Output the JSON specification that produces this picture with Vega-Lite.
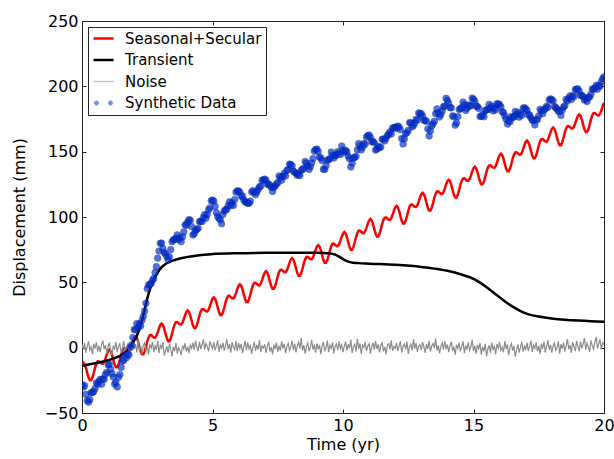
{
"$schema": "https://vega.github.io/schema/vega-lite/v6.json",
"width": 522, "height": 392,
"autosize": {"type": "none"},
"padding": {"left": 82, "top": 21, "right": 10, "bottom": 46},
"background": "white",
"config": {"font": "DejaVu Sans", "view": {"stroke": "#222", "strokeWidth": 1},
  "axis": {"labelFont": "DejaVu Sans", "titleFont": "DejaVu Sans", "labelColor": "black", "titleColor": "black", "grid": false, "domain": false, "tickColor": "#222", "tickWidth": 1, "labelFlush": false, "labelOverlap": false}},
"datasets": {
"series": [
{"t":0,"r":-12.6,"n":2.4,"d":-28.4},{"t":0.05,"r":-11.5,"n":-1.3,"d":-30.1},{"t":0.1,"r":-12.6,"n":3.5,"d":-29.0},{"t":0.15,"r":-15.4,"n":-4.0,"d":-35.7},{"t":0.2,"r":-19.3,"n":1.0,"d":-40.4},{"t":0.25,"r":-22.9,"n":4.8,"d":-41.8},{"t":0.3,"r":-25.0,"n":-1.9,"d":-39.7},{"t":0.35,"r":-25.0,"n":0.6,"d":-34.5},{"t":0.4,"r":-22.9,"n":-5.0,"d":-34.3},{"t":0.45,"r":-19.3,"n":2.9,"d":-33.5},{"t":0.5,"r":-15.3,"n":-0.8,"d":-31.3},{"t":0.55,"r":-12.2,"n":4.2,"d":-27.0},{"t":0.6,"r":-10.5,"n":-3.0,"d":-28.0},{"t":0.65,"r":-10.4,"n":1.4,"d":-25.7},{"t":0.7,"r":-11.3,"n":-3.5,"d":-24.3},{"t":0.75,"r":-12.2,"n":2.1,"d":-28.0},{"t":0.8,"r":-12.3,"n":5.4,"d":-23.9},{"t":0.85,"r":-10.9,"n":-1.1,"d":-24.2},{"t":0.9,"r":-8.3,"n":1.8,"d":-20.4},{"t":0.95,"r":-5.1,"n":-4.5,"d":-18.9},
{"t":1,"r":-2.6,"n":0.5,"d":-13.2},{"t":1.05,"r":-1.5,"n":3.8,"d":-12.8},{"t":1.1,"r":-2.6,"n":-2.6,"d":-16.5},{"t":1.15,"r":-5.4,"n":-5.4,"d":-20.0},{"t":1.2,"r":-9.3,"n":1.6,"d":-22.6},{"t":1.25,"r":-12.9,"n":-1.4,"d":-27.9},{"t":1.3,"r":-15.0,"n":4.5,"d":-26.6},{"t":1.35,"r":-15.0,"n":-3.2,"d":-30.1},{"t":1.4,"r":-12.9,"n":1.1,"d":-22.6},{"t":1.45,"r":-9.3,"n":3.0,"d":-20.5},{"t":1.5,"r":-5.3,"n":-4.3,"d":-15.1},{"t":1.55,"r":-2.2,"n":0.3,"d":-10.2},{"t":1.6,"r":-0.5,"n":5.0,"d":-9.6},{"t":1.65,"r":-0.4,"n":-2.1,"d":-5.6},{"t":1.7,"r":-1.3,"n":-0.6,"d":-7.7},{"t":1.75,"r":-2.2,"n":3.2,"d":-4.7},{"t":1.8,"r":-2.3,"n":-4.8,"d":-5.6},{"t":1.85,"r":-0.9,"n":2.2,"d":0.1},{"t":1.9,"r":1.7,"n":-1.8,"d":2.1},{"t":1.95,"r":4.9,"n":4.0,"d":7.8},
{"t":2,"r":7.4,"n":-1.0,"d":13.9},{"t":2.05,"r":8.5,"n":2.7,"d":13.7},{"t":2.1,"r":7.4,"n":-3.7,"d":18.4},{"t":2.15,"r":4.6,"n":5.8,"d":15.2},{"t":2.2,"r":0.7,"n":-2.2,"d":18.2},{"t":2.25,"r":-2.9,"n":1.3,"d":16.7},{"t":2.3,"r":-5.0,"n":-4.6,"d":21.0},{"t":2.35,"r":-5.0,"n":1.9,"d":24.0},{"t":2.4,"r":-2.9,"n":3.7,"d":28.1},{"t":2.45,"r":0.7,"n":-2.9,"d":34.0},{"t":2.5,"r":4.7,"n":0.8,"d":45.2},{"t":2.55,"r":7.8,"n":-5.3,"d":48.0},{"t":2.6,"r":9.5,"n":2.6,"d":48.5},{"t":2.65,"r":9.6,"n":-0.3,"d":49.0},{"t":2.7,"r":8.7,"n":4.3,"d":51.5},{"t":2.75,"r":7.8,"n":-3.4,"d":53.0},{"t":2.8,"r":7.7,"n":1.4,"d":57.5},{"t":2.85,"r":9.1,"n":-1.6,"d":62.0},{"t":2.9,"r":11.7,"n":5.1,"d":68.5},{"t":2.95,"r":14.9,"n":-4.2,"d":74.0},
{"t":3,"r":17.4,"n":1.8,"d":79.9},{"t":3.05,"r":18.5,"n":-0.5,"d":80.0},{"t":3.1,"r":17.4,"n":4.2,"d":75.8},{"t":3.15,"r":14.6,"n":-6.1,"d":72.8},{"t":3.2,"r":10.7,"n":-2.4,"d":71.7},{"t":3.25,"r":7.1,"n":1.1,"d":69.6},{"t":3.3,"r":5.0,"n":-3.8,"d":67.0},{"t":3.35,"r":5.0,"n":3.0,"d":69.5},{"t":3.4,"r":7.1,"n":-1.3,"d":75.0},{"t":3.45,"r":10.7,"n":-6.7,"d":81.1},{"t":3.5,"r":14.7,"n":0.6,"d":82.5},{"t":3.55,"r":17.8,"n":-2.7,"d":82.9},{"t":3.6,"r":19.5,"n":3.5,"d":83.9},{"t":3.65,"r":19.6,"n":-4.6,"d":86.3},{"t":3.7,"r":18.7,"n":0.2,"d":82.6},{"t":3.75,"r":17.8,"n":-1.9,"d":84.0},{"t":3.8,"r":17.7,"n":-5.6,"d":81.1},{"t":3.85,"r":19.1,"n":1.6,"d":84.8},{"t":3.9,"r":21.7,"n":-1.0,"d":88.6},{"t":3.95,"r":24.9,"n":3.4,"d":94.0},
{"t":4,"r":27.4,"n":-3.0,"d":93.7},{"t":4.05,"r":28.5,"n":0.8,"d":96.0},{"t":4.1,"r":27.4,"n":-4.2,"d":98.0},{"t":4.15,"r":24.6,"n":2.1,"d":97.4},{"t":4.2,"r":20.7,"n":-0.6,"d":92.6},{"t":4.25,"r":17.1,"n":3.8,"d":86.2},{"t":4.3,"r":15.0,"n":-1.8,"d":87.2},{"t":4.35,"r":15.0,"n":5.3,"d":89.4},{"t":4.4,"r":17.1,"n":0.3,"d":90.6},{"t":4.45,"r":20.7,"n":-2.6,"d":91.4},{"t":4.5,"r":24.7,"n":4.6,"d":96.5},{"t":4.55,"r":27.8,"n":-1.1,"d":96.7},{"t":4.6,"r":29.5,"n":2.4,"d":96.5},{"t":4.65,"r":29.6,"n":6.6,"d":99.6},{"t":4.7,"r":28.7,"n":-1.4,"d":101.8},{"t":4.75,"r":27.8,"n":3.2,"d":99.0},{"t":4.8,"r":27.7,"n":1.0,"d":102.0},{"t":4.85,"r":29.1,"n":-2.9,"d":105.5},{"t":4.9,"r":31.7,"n":4.8,"d":107.1},{"t":4.95,"r":34.9,"n":1.9,"d":112.4},
{"t":5,"r":37.4,"n":-0.8,"d":113.0},{"t":5.05,"r":38.5,"n":4.3,"d":112.1},{"t":5.1,"r":37.4,"n":-2.1,"d":108.1},{"t":5.15,"r":34.6,"n":1.3,"d":103.3},{"t":5.2,"r":30.7,"n":5.6,"d":100.4},{"t":5.25,"r":27.1,"n":-3.2,"d":98.9},{"t":5.3,"r":25.0,"n":2.2,"d":97.8},{"t":5.35,"r":25.0,"n":-0.3,"d":94.8},{"t":5.4,"r":27.1,"n":3.7,"d":102.0},{"t":5.45,"r":30.7,"n":-2.4,"d":104.6},{"t":5.5,"r":34.7,"n":1.4,"d":105.6},{"t":5.55,"r":37.8,"n":6.4,"d":105.8},{"t":5.6,"r":39.5,"n":-1.3,"d":108.5},{"t":5.65,"r":39.6,"n":2.7,"d":111.6},{"t":5.7,"r":38.7,"n":-3.8,"d":108.8},{"t":5.75,"r":37.8,"n":4.2,"d":110.9},{"t":5.8,"r":37.7,"n":0.5,"d":108.8},{"t":5.85,"r":39.1,"n":-1.6,"d":113.3},{"t":5.9,"r":41.7,"n":5.0,"d":118.9},{"t":5.95,"r":44.9,"n":-2.7,"d":120.1},
{"t":6,"r":47.4,"n":3.5,"d":119.8},{"t":6.05,"r":48.5,"n":-0.6,"d":118.9},{"t":6.1,"r":47.4,"n":2.9,"d":115.8},{"t":6.15,"r":44.6,"n":-4.3,"d":116.0},{"t":6.2,"r":40.7,"n":1.0,"d":113.1},{"t":6.25,"r":37.1,"n":5.1,"d":111.5},{"t":6.3,"r":35.0,"n":-1.9,"d":111.4},{"t":6.35,"r":35.0,"n":4.0,"d":110.4},{"t":6.4,"r":37.1,"n":-1.0,"d":110.5},{"t":6.45,"r":40.7,"n":1.6,"d":112.1},{"t":6.5,"r":44.7,"n":-4.8,"d":119.1},{"t":6.55,"r":47.8,"n":0.6,"d":120.2},{"t":6.6,"r":49.5,"n":4.5,"d":118.9},{"t":6.65,"r":49.6,"n":-2.4,"d":117.0},{"t":6.7,"r":48.7,"n":2.1,"d":119.1},{"t":6.75,"r":47.8,"n":-1.4,"d":121.2},{"t":6.8,"r":47.7,"n":5.9,"d":123.1},{"t":6.85,"r":49.1,"n":-3.5,"d":123.5},{"t":6.9,"r":51.7,"n":1.3,"d":128.1},{"t":6.95,"r":54.9,"n":-0.2,"d":128.3},
{"t":7,"r":57.4,"n":2.6,"d":129.0},{"t":7.05,"r":58.5,"n":-4.0,"d":128.1},{"t":7.1,"r":57.4,"n":1.1,"d":125.0},{"t":7.15,"r":54.6,"n":4.6,"d":125.2},{"t":7.2,"r":50.7,"n":-2.9,"d":124.3},{"t":7.25,"r":47.1,"n":0.5,"d":122.7},{"t":7.3,"r":45.0,"n":-5.1,"d":119.6},{"t":7.35,"r":45.0,"n":2.4,"d":122.6},{"t":7.4,"r":47.1,"n":-1.1,"d":123.7},{"t":7.45,"r":50.7,"n":3.8,"d":125.3},{"t":7.5,"r":54.7,"n":-3.2,"d":126.3},{"t":7.55,"r":57.8,"n":1.4,"d":131.4},{"t":7.6,"r":59.5,"n":-2.2,"d":130.1},{"t":7.65,"r":59.6,"n":4.8,"d":128.2},{"t":7.7,"r":58.7,"n":-0.5,"d":131.3},{"t":7.75,"r":57.8,"n":2.9,"d":133.4},{"t":7.8,"r":57.7,"n":-4.2,"d":131.3},{"t":7.85,"r":59.1,"n":0.8,"d":135.7},{"t":7.9,"r":61.7,"n":3.4,"d":136.3},{"t":7.95,"r":64.9,"n":-2.1,"d":140.5},
{"t":8,"r":67.4,"n":0.6,"d":140.1},{"t":8.05,"r":68.5,"n":5.3,"d":139.2},{"t":8.1,"r":67.4,"n":-1.8,"d":135.1},{"t":8.15,"r":64.6,"n":3.0,"d":134.3},{"t":8.2,"r":60.7,"n":-3.7,"d":133.4},{"t":8.25,"r":57.1,"n":1.3,"d":131.8},{"t":8.3,"r":55.0,"n":4.2,"d":132.7},{"t":8.35,"r":55.0,"n":-0.8,"d":131.7},{"t":8.4,"r":57.1,"n":7.4,"d":135.8},{"t":8.45,"r":60.7,"n":-2.2,"d":136.4},{"t":8.5,"r":64.7,"n":1.9,"d":137.4},{"t":8.55,"r":67.8,"n":-4.5,"d":142.5},{"t":8.6,"r":69.5,"n":1.0,"d":141.2},{"t":8.65,"r":69.6,"n":3.5,"d":139.3},{"t":8.7,"r":68.7,"n":-2.7,"d":136.4},{"t":8.75,"r":67.8,"n":0.5,"d":138.5},{"t":8.8,"r":67.7,"n":5.8,"d":141.4},{"t":8.85,"r":69.1,"n":-1.4,"d":144.8},{"t":8.9,"r":71.7,"n":2.4,"d":150.4},{"t":8.95,"r":74.9,"n":-3.8,"d":151.6},
{"t":9,"r":77.4,"n":3.2,"d":152.0},{"t":9.05,"r":78.5,"n":-1.3,"d":150.1},{"t":9.1,"r":77.4,"n":2.2,"d":145.9},{"t":9.15,"r":74.6,"n":-5.0,"d":145.1},{"t":9.2,"r":70.7,"n":1.4,"d":143.2},{"t":9.25,"r":67.1,"n":4.3,"d":136.5},{"t":9.3,"r":65.0,"n":-2.6,"d":136.4},{"t":9.35,"r":65.0,"n":0.3,"d":139.3},{"t":9.4,"r":67.1,"n":5.4,"d":143.4},{"t":9.45,"r":70.7,"n":-3.4,"d":143.9},{"t":9.5,"r":74.7,"n":1.8,"d":144.7},{"t":9.55,"r":77.8,"n":-0.6,"d":149.7},{"t":9.6,"r":79.5,"n":4.0,"d":147.3},{"t":9.65,"r":79.6,"n":-4.6,"d":145.1},{"t":9.7,"r":78.7,"n":1.1,"d":146.8},{"t":9.75,"r":77.8,"n":2.9,"d":147.6},{"t":9.8,"r":77.7,"n":-1.9,"d":150.0},{"t":9.85,"r":79.1,"n":4.8,"d":148.8},{"t":9.9,"r":81.7,"n":-0.8,"d":147.7},{"t":9.95,"r":84.9,"n":2.1,"d":154.3},
{"t":10,"r":87.4,"n":-3.5,"d":151.2},{"t":10.05,"r":88.5,"n":1.0,"d":149.7},{"t":10.1,"r":87.4,"n":4.6,"d":151.1},{"t":10.15,"r":84.6,"n":-2.2,"d":149.8},{"t":10.2,"r":80.7,"n":2.7,"d":146.5},{"t":10.25,"r":77.1,"n":-0.5,"d":144.6},{"t":10.3,"r":75.0,"n":6.1,"d":138.3},{"t":10.35,"r":75.0,"n":-4.0,"d":141.1},{"t":10.4,"r":77.1,"n":0.8,"d":145.1},{"t":10.45,"r":80.7,"n":2.6,"d":145.6},{"t":10.5,"r":84.7,"n":-3.0,"d":146.5},{"t":10.55,"r":87.8,"n":6.9,"d":151.5},{"t":10.6,"r":89.5,"n":-1.1,"d":156.2},{"t":10.65,"r":89.6,"n":3.2,"d":154.3},{"t":10.7,"r":88.7,"n":-4.8,"d":151.3},{"t":10.75,"r":87.8,"n":1.9,"d":153.4},{"t":10.8,"r":87.7,"n":0.2,"d":156.2},{"t":10.85,"r":89.1,"n":4.3,"d":155.6},{"t":10.9,"r":91.7,"n":-2.6,"d":161.1},{"t":10.95,"r":94.9,"n":1.3,"d":162.3},
{"t":11,"r":97.4,"n":3.0,"d":162.7},{"t":11.05,"r":98.5,"n":-4.5,"d":160.8},{"t":11.1,"r":97.4,"n":0.5,"d":157.6},{"t":11.15,"r":94.6,"n":3.8,"d":157.8},{"t":11.2,"r":90.7,"n":-1.6,"d":156.8},{"t":11.25,"r":87.1,"n":5.0,"d":151.2},{"t":11.3,"r":85.0,"n":-1.0,"d":152.0},{"t":11.35,"r":85.0,"n":2.4,"d":154.0},{"t":11.4,"r":87.1,"n":-3.7,"d":153.0},{"t":11.45,"r":90.7,"n":1.4,"d":153.6},{"t":11.5,"r":94.7,"n":4.2,"d":159.5},{"t":11.55,"r":97.8,"n":-2.9,"d":159.6},{"t":11.6,"r":99.5,"n":0.6,"d":158.2},{"t":11.65,"r":99.6,"n":-5.1,"d":160.3},{"t":11.7,"r":98.7,"n":2.1,"d":162.3},{"t":11.75,"r":97.8,"n":3.2,"d":163.4},{"t":11.8,"r":97.7,"n":-1.4,"d":165.2},{"t":11.85,"r":99.1,"n":5.6,"d":163.6},{"t":11.9,"r":101.7,"n":-2.4,"d":168.1},{"t":11.95,"r":104.9,"n":1.1,"d":168.3},
{"t":12,"r":107.4,"n":-0.6,"d":168.8},{"t":12.05,"r":108.5,"n":3.5,"d":167.8},{"t":12.1,"r":107.4,"n":-2.7,"d":169.6},{"t":12.15,"r":104.6,"n":1.6,"d":168.8},{"t":12.2,"r":100.7,"n":4.8,"d":166.8},{"t":12.25,"r":97.1,"n":-3.8,"d":160.1},{"t":12.3,"r":95.0,"n":1.0,"d":155.9},{"t":12.35,"r":95.0,"n":2.9,"d":159.8},{"t":12.4,"r":97.1,"n":-1.3,"d":163.9},{"t":12.45,"r":100.7,"n":4.6,"d":164.4},{"t":12.5,"r":104.7,"n":-4.8,"d":166.3},{"t":12.55,"r":107.8,"n":0.8,"d":172.3},{"t":12.6,"r":109.5,"n":2.6,"d":171.9},{"t":12.65,"r":109.6,"n":-2.1,"d":169.0},{"t":12.7,"r":108.7,"n":6.4,"d":170.0},{"t":12.75,"r":107.8,"n":-0.8,"d":172.0},{"t":12.8,"r":107.7,"n":3.4,"d":174.8},{"t":12.85,"r":109.1,"n":-3.2,"d":174.1},{"t":12.9,"r":111.7,"n":1.4,"d":179.7},{"t":12.95,"r":114.9,"n":2.2,"d":178.8},
{"t":13,"r":117.4,"n":-1.8,"d":179.2},{"t":13.05,"r":118.5,"n":4.2,"d":177.2},{"t":13.1,"r":117.4,"n":0.5,"d":173.9},{"t":13.15,"r":114.6,"n":-4.0,"d":174.0},{"t":13.2,"r":110.7,"n":2.7,"d":173.0},{"t":13.25,"r":107.1,"n":-1.0,"d":167.3},{"t":13.3,"r":105.0,"n":5.3,"d":162.0},{"t":13.35,"r":105.0,"n":-3.0,"d":165.9},{"t":13.4,"r":107.1,"n":1.3,"d":169.9},{"t":13.45,"r":110.7,"n":3.2,"d":171.3},{"t":13.5,"r":114.7,"n":-0.3,"d":173.2},{"t":13.55,"r":117.8,"n":7.0,"d":179.1},{"t":13.6,"r":119.5,"n":-2.2,"d":182.7},{"t":13.65,"r":119.6,"n":1.8,"d":179.6},{"t":13.7,"r":118.7,"n":-4.3,"d":176.5},{"t":13.75,"r":117.8,"n":1.0,"d":178.5},{"t":13.8,"r":117.7,"n":3.8,"d":181.2},{"t":13.85,"r":119.1,"n":-1.6,"d":184.4},{"t":13.9,"r":121.7,"n":5.1,"d":184.9},{"t":13.95,"r":124.9,"n":-1.1,"d":190.9},
{"t":14,"r":127.4,"n":2.4,"d":189.2},{"t":14.05,"r":128.5,"n":-3.4,"d":187.0},{"t":14.1,"r":127.4,"n":1.4,"d":183.7},{"t":14.15,"r":124.6,"n":4.5,"d":183.6},{"t":14.2,"r":120.7,"n":-2.4,"d":177.5},{"t":14.25,"r":117.1,"n":0.3,"d":176.6},{"t":14.3,"r":115.0,"n":-5.3,"d":170.3},{"t":14.35,"r":115.0,"n":2.2,"d":172.0},{"t":14.4,"r":117.1,"n":-0.6,"d":176.8},{"t":14.45,"r":120.7,"n":3.7,"d":182.2},{"t":14.5,"r":124.7,"n":-2.9,"d":182.9},{"t":14.55,"r":127.8,"n":1.1,"d":183.7},{"t":14.6,"r":129.5,"n":4.8,"d":188.0},{"t":14.65,"r":129.6,"n":-4.2,"d":185.8},{"t":14.7,"r":128.7,"n":1.6,"d":181.5},{"t":14.75,"r":127.8,"n":-1.4,"d":183.3},{"t":14.8,"r":127.7,"n":4.0,"d":185.8},{"t":14.85,"r":129.1,"n":-2.1,"d":184.9},{"t":14.9,"r":131.7,"n":0.6,"d":185.1},{"t":14.95,"r":134.9,"n":5.9,"d":191.0},
{"t":15,"r":137.4,"n":-2.6,"d":190.1},{"t":15.05,"r":138.5,"n":1.3,"d":188.6},{"t":15.1,"r":137.4,"n":-4.6,"d":184.9},{"t":15.15,"r":134.6,"n":2.1,"d":184.5},{"t":15.2,"r":130.7,"n":-0.8,"d":183.1},{"t":15.25,"r":127.1,"n":3.5,"d":176.9},{"t":15.3,"r":125.0,"n":-5.4,"d":177.1},{"t":15.35,"r":125.0,"n":0.8,"d":178.4},{"t":15.4,"r":127.1,"n":-2.9,"d":176.7},{"t":15.45,"r":130.7,"n":3.0,"d":181.6},{"t":15.5,"r":134.7,"n":-6.6,"d":181.9},{"t":15.55,"r":137.8,"n":-1.1,"d":182.2},{"t":15.6,"r":139.5,"n":1.8,"d":186.2},{"t":15.65,"r":139.6,"n":-4.0,"d":183.5},{"t":15.7,"r":138.7,"n":3.8,"d":184.9},{"t":15.75,"r":137.8,"n":-1.4,"d":181.2},{"t":15.8,"r":137.7,"n":1.0,"d":183.3},{"t":15.85,"r":139.1,"n":-5.0,"d":182.0},{"t":15.9,"r":141.7,"n":2.7,"d":186.8},{"t":15.95,"r":144.9,"n":-0.5,"d":186.3},
{"t":16,"r":147.4,"n":4.2,"d":186.0},{"t":16.05,"r":148.5,"n":-1.9,"d":184.3},{"t":16.1,"r":147.4,"n":0.6,"d":180.5},{"t":16.15,"r":144.6,"n":-3.5,"d":179.9},{"t":16.2,"r":140.7,"n":5.0,"d":177.3},{"t":16.25,"r":137.1,"n":-1.0,"d":174.9},{"t":16.3,"r":135.0,"n":2.4,"d":171.1},{"t":16.35,"r":135.0,"n":-5.8,"d":173.4},{"t":16.4,"r":137.1,"n":0.3,"d":172.9},{"t":16.45,"r":140.7,"n":3.2,"d":176.8},{"t":16.5,"r":144.7,"n":-2.2,"d":176.1},{"t":16.55,"r":147.8,"n":1.4,"d":176.6},{"t":16.6,"r":149.5,"n":-6.9,"d":180.8},{"t":16.65,"r":149.6,"n":-1.8,"d":178.3},{"t":16.7,"r":148.7,"n":2.6,"d":179.9},{"t":16.75,"r":147.8,"n":-3.8,"d":176.4},{"t":16.8,"r":147.7,"n":0.5,"d":178.8},{"t":16.85,"r":149.1,"n":4.5,"d":177.8},{"t":16.9,"r":151.7,"n":-3.0,"d":182.9},{"t":16.95,"r":154.9,"n":1.1,"d":183.7},
{"t":17,"r":157.4,"n":-1.3,"d":182.7},{"t":17.05,"r":158.5,"n":3.7,"d":181.5},{"t":17.1,"r":157.4,"n":-2.4,"d":178.2},{"t":17.15,"r":154.6,"n":1.0,"d":178.1},{"t":17.2,"r":150.7,"n":5.4,"d":176.0},{"t":17.25,"r":147.1,"n":-3.2,"d":174.1},{"t":17.3,"r":145.0,"n":1.9,"d":173.8},{"t":17.35,"r":145.0,"n":-0.6,"d":170.5},{"t":17.4,"r":147.1,"n":4.0,"d":174.4},{"t":17.45,"r":150.7,"n":-2.7,"d":174.7},{"t":17.5,"r":154.7,"n":1.3,"d":177.5},{"t":17.55,"r":157.8,"n":-4.8,"d":182.5},{"t":17.6,"r":159.5,"n":3.0,"d":181.0},{"t":17.65,"r":159.6,"n":-1.0,"d":179.0},{"t":17.7,"r":158.7,"n":4.6,"d":181.9},{"t":17.75,"r":157.8,"n":-3.7,"d":182.9},{"t":17.8,"r":157.7,"n":0.8,"d":184.7},{"t":17.85,"r":159.1,"n":5.8,"d":183.9},{"t":17.9,"r":161.7,"n":-1.6,"d":189.4},{"t":17.95,"r":164.9,"n":2.2,"d":190.4},
{"t":18,"r":167.4,"n":-3.8,"d":189.8},{"t":18.05,"r":168.5,"n":1.1,"d":188.8},{"t":18.1,"r":167.4,"n":3.5,"d":184.6},{"t":18.15,"r":164.6,"n":-2.1,"d":183.7},{"t":18.2,"r":160.7,"n":0.2,"d":182.7},{"t":18.25,"r":157.1,"n":4.8,"d":181.0},{"t":18.3,"r":155.0,"n":-4.5,"d":180.8},{"t":18.35,"r":155.0,"n":2.6,"d":177.7},{"t":18.4,"r":157.1,"n":-0.8,"d":181.7},{"t":18.45,"r":160.7,"n":3.8,"d":184.2},{"t":18.5,"r":164.7,"n":-3.0,"d":185.1},{"t":18.55,"r":167.8,"n":1.4,"d":190.1},{"t":18.6,"r":169.5,"n":6.6,"d":188.8},{"t":18.65,"r":169.6,"n":-1.3,"d":190.8},{"t":18.7,"r":168.7,"n":2.1,"d":192.8},{"t":18.75,"r":167.8,"n":-4.0,"d":189.9},{"t":18.8,"r":167.7,"n":4.3,"d":192.7},{"t":18.85,"r":169.1,"n":0.6,"d":192.0},{"t":18.9,"r":171.7,"n":-2.6,"d":197.5},{"t":18.95,"r":174.9,"n":5.1,"d":197.7},
{"t":19,"r":177.4,"n":1.0,"d":198.1},{"t":19.05,"r":178.5,"n":-2.9,"d":196.1},{"t":19.1,"r":177.4,"n":4.6,"d":193.0},{"t":19.15,"r":174.6,"n":-0.5,"d":193.1},{"t":19.2,"r":170.7,"n":2.7,"d":192.2},{"t":19.25,"r":167.1,"n":7.4,"d":189.5},{"t":19.3,"r":165.0,"n":-1.8,"d":190.4},{"t":19.35,"r":165.0,"n":3.5,"d":188.3},{"t":19.4,"r":167.1,"n":0.5,"d":191.4},{"t":19.45,"r":170.7,"n":-3.2,"d":191.9},{"t":19.5,"r":174.7,"n":5.6,"d":193.9},{"t":19.55,"r":177.8,"n":1.6,"d":198.0},{"t":19.6,"r":179.5,"n":-1.1,"d":197.6},{"t":19.65,"r":179.6,"n":4.2,"d":198.7},{"t":19.7,"r":178.7,"n":8.3,"d":200.8},{"t":19.75,"r":177.8,"n":-0.6,"d":197.8},{"t":19.8,"r":177.7,"n":3.0,"d":200.7},{"t":19.85,"r":179.1,"n":6.1,"d":200.1},{"t":19.9,"r":181.7,"n":-1.4,"d":203.6},{"t":19.95,"r":184.9,"n":3.8,"d":205.8},
{"t":20,"r":187.4,"n":2.4,"d":207.3}
],
"transient": [
{"t":0,"b":-13.8},{"t":0.5,"b":-12.0},{"t":1.0,"b":-9.6},{"t":1.25,"b":-8.0},{"t":1.5,"b":-5.8},{"t":1.75,"b":-1.5},{"t":2.0,"b":5.5},{"t":2.1,"b":9.0},{"t":2.2,"b":14.5},{"t":2.3,"b":21.0},{"t":2.4,"b":29.0},{"t":2.5,"b":37.5},{"t":2.6,"b":44.5},{"t":2.7,"b":50.0},{"t":2.8,"b":54.0},{"t":2.9,"b":57.5},{"t":3.0,"b":60.5},{"t":3.2,"b":64.0},{"t":3.5,"b":66.8},{"t":4.0,"b":69.3},{"t":4.5,"b":70.8},{"t":5.0,"b":71.6},{"t":6.0,"b":72.3},{"t":7.0,"b":72.6},{"t":8.0,"b":72.7},{"t":9.0,"b":72.6},{"t":9.4,"b":72.3},{"t":9.6,"b":71.8},{"t":9.8,"b":70.3},{"t":10.0,"b":67.8},{"t":10.2,"b":65.8},{"t":10.4,"b":65.0},{"t":10.6,"b":64.7},{"t":11.0,"b":64.3},{"t":12.0,"b":63.4},{"t":13.0,"b":61.8},{"t":13.5,"b":60.5},{"t":14.0,"b":58.8},{"t":14.5,"b":56.2},{"t":15.0,"b":52.7},{"t":15.25,"b":49.8},{"t":15.5,"b":46.2},{"t":15.75,"b":42.4},{"t":16.0,"b":38.6},{"t":16.25,"b":34.8},{"t":16.5,"b":31.4},{"t":16.75,"b":28.6},{"t":17.0,"b":26.3},{"t":17.5,"b":23.8},{"t":18.0,"b":22.4},{"t":18.5,"b":21.4},{"t":19.0,"b":20.7},{"t":19.5,"b":20.2},{"t":20.0,"b":19.9}
]
},
"resolve": {"axis": {"x": "independent", "y": "independent"}},
"layer": [
{"data": {"name": "series"},
 "mark": {"type": "line", "strokeWidth": 2.5, "clip": true},
 "encoding": {
  "x": {"field": "t", "type": "quantitative", "scale": {"domain": [0, 20], "nice": false},
        "axis": {"orient": "bottom", "values": [0, 5, 10, 15, 20], "format": "d", "tickSize": -4, "labelPadding": 8, "labelFontSize": 16, "title": "Time (yr)", "titleFontSize": 16, "titleFontWeight": "normal", "titlePadding": 3}},
  "y": {"field": "r", "type": "quantitative", "scale": {"domain": [-50, 250], "nice": false},
        "axis": {"orient": "left", "values": [-50, 0, 50, 100, 150, 200, 250], "format": "d", "tickSize": -4, "labelPadding": 8, "labelFontSize": 16, "title": "Displacement (mm)", "titleFontSize": 16, "titleFontWeight": "normal", "titlePadding": 17}},
  "color": {"datum": "Seasonal+Secular", "type": "nominal",
    "scale": {"domain": ["Seasonal+Secular", "Transient", "Noise", "Synthetic Data"], "range": ["#ff0000", "#000000", "#8c8c8c", "#0030d8"]},
    "legend": {"title": null, "orient": "top-left", "offset": 6, "padding": 4, "strokeColor": "#222", "fillColor": "white", "cornerRadius": 0,
      "labelFontSize": 15, "labelFont": "DejaVu Sans", "labelColor": "black", "labelLimit": 400, "symbolSize": 400, "symbolStrokeWidth": 2.5, "symbolOffset": 4, "labelOffset": 14, "rowPadding": 5.5,
      "encode": {"symbols": {"update": {
        "fill": {"scale": "color", "field": "value"},
        "stroke": {"scale": "color", "field": "value"},
        "shape": {"signal": "datum.value === 'Synthetic Data' ? 'M-0.92,0A0.22,0.22,0,1,0,-0.48,0A0.22,0.22,0,1,0,-0.92,0ZM0.48,0A0.22,0.22,0,1,0,0.92,0A0.22,0.22,0,1,0,0.48,0Z' : 'stroke'"},
        "strokeWidth": {"signal": "datum.value === 'Synthetic Data' ? 0.6 : (datum.value === 'Noise' ? 1.3 : 2.5)"},
        "opacity": {"signal": "datum.value === 'Synthetic Data' ? 0.55 : (datum.value === 'Noise' ? 0.55 : 1)"}
      }}}}}
 }},
{"data": {"name": "transient"},
 "mark": {"type": "line", "strokeWidth": 2.5, "interpolate": "monotone", "clip": true},
 "encoding": {
  "x": {"field": "t", "type": "quantitative", "axis": {"orient": "top", "values": [0, 5, 10, 15, 20], "tickSize": -4, "labels": false, "title": null}},
  "y": {"field": "b", "type": "quantitative", "axis": {"orient": "right", "values": [-50, 0, 50, 100, 150, 200, 250], "tickSize": -4, "labels": false, "title": null}},
  "color": {"datum": "Transient", "type": "nominal"}
 }},
{"data": {"name": "series"},
 "mark": {"type": "line", "strokeWidth": 1.2, "clip": true},
 "encoding": {
  "x": {"field": "t", "type": "quantitative", "axis": null},
  "y": {"field": "n", "type": "quantitative", "axis": null},
  "color": {"datum": "Noise", "type": "nominal"}
 }},
{"data": {"name": "series"},
 "mark": {"type": "point", "filled": true, "size": 44, "opacity": 0.68, "stroke": "#001a78", "strokeWidth": 0.6, "clip": true},
 "encoding": {
  "x": {"field": "t", "type": "quantitative", "axis": null},
  "y": {"field": "d", "type": "quantitative", "axis": null},
  "color": {"datum": "Synthetic Data", "type": "nominal"}
 }}
]
}
